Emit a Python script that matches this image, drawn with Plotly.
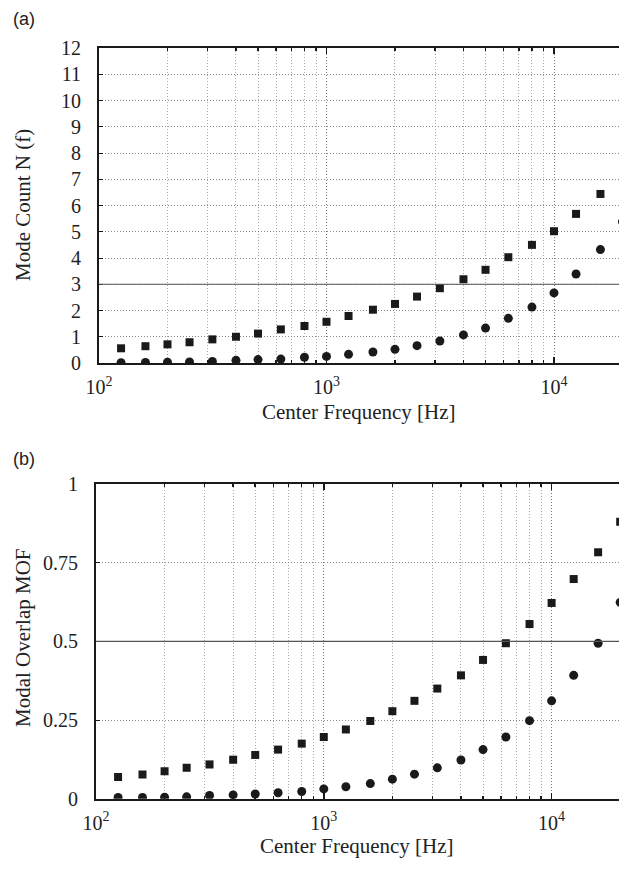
import plotly.graph_objects as go

# ---- data ----
freqs = [125, 160, 200, 250, 315, 400, 500, 630, 800, 1000, 1250, 1600,
         2000, 2500, 3150, 4000, 5000, 6300, 8000, 10000, 12500, 16000, 20000]

# last square of panel (a) lies outside the visible frame in the reference
mode_count_sq = [0.56, 0.64, 0.71, 0.79, 0.90, 1.00, 1.12, 1.28, 1.41, 1.57, 1.79, 2.03,
                 2.25, 2.53, 2.85, 3.19, 3.55, 4.03, 4.50, 5.02, 5.68, 6.44, None]
mode_count_ci = [0.01, 0.02, 0.03, 0.04, 0.06, 0.10, 0.13, 0.15, 0.22, 0.25, 0.33, 0.42,
                 0.52, 0.66, 0.84, 1.07, 1.33, 1.70, 2.13, 2.67, 3.39, 4.32, 5.38]

mof_sq = [0.069, 0.077, 0.087, 0.098, 0.109, 0.124, 0.139, 0.156, 0.175, 0.196, 0.220, 0.247,
          0.278, 0.311, 0.350, 0.392, 0.441, 0.494, 0.555, 0.622, 0.698, 0.783, 0.880]
mof_ci = [0.004, 0.004, 0.005, 0.006, 0.010, 0.012, 0.015, 0.019, 0.023, 0.031, 0.038, 0.048,
          0.062, 0.078, 0.098, 0.123, 0.156, 0.196, 0.248, 0.311, 0.392, 0.494, 0.624]

threshold_a = 3
threshold_b = 0.5

x_major = [100, 1000, 10000]
x_major_text = ["10<sup>2</sup>", "10<sup>3</sup>", "10<sup>4</sup>"]
x_minor = [200, 300, 400, 500, 600, 700, 800, 900,
           2000, 3000, 4000, 5000, 6000, 7000, 8000, 9000, 20000]

ya_ticks = list(range(0, 13))
yb_ticks = [0, 0.25, 0.5, 0.75, 1]
yb_text = ["0", "0.25", "0.5", "0.75", "1"]

# figure is a bit wider than the 619px window so the right edge is cropped,
# as in the reference
W, H = 640, 869
SERIF = "Liberation Serif"
INK = "#1a1a1a"
DOTS = "1px,2px"

fig = go.Figure()

def add_series(xa, ya, sq, ci):
    fig.add_trace(go.Scatter(x=freqs, y=sq, mode="markers", xaxis=xa, yaxis=ya,
                             marker=dict(symbol="square", size=8, color=INK, line=dict(width=0)),
                             showlegend=False, cliponaxis=True))
    fig.add_trace(go.Scatter(x=freqs, y=ci, mode="markers", xaxis=xa, yaxis=ya,
                             marker=dict(symbol="circle", size=9, color=INK, line=dict(width=0)),
                             showlegend=False, cliponaxis=True))

add_series("x", "y", mode_count_sq, mode_count_ci)
add_series("x2", "y2", mof_sq, mof_ci)

def px_x(p):
    return p / W

def px_y(p):
    return 1 - p / H

xcommon = dict(
    type="log", tickmode="array", tickvals=x_major, ticktext=x_major_text,
    ticks="inside", ticklen=6, tickwidth=1.5, tickcolor=INK,
    showline=True, linewidth=2, linecolor=INK, mirror="ticks",
    showgrid=True, gridcolor="#777", griddash=DOTS, gridwidth=1,
    tickfont=dict(family=SERIF, size=20, color="#222"),
    ticklabelstandoff=5, automargin=False,
    minor=dict(tickmode="array", tickvals=x_minor, ticks="inside", ticklen=3,
               tickcolor=INK, showgrid=True, gridcolor="#a8a8a8", griddash=DOTS,
               gridwidth=1),
    zeroline=False,
)
ycommon = dict(
    ticks="inside", ticklen=4, tickwidth=1, tickcolor=INK,
    showline=True, linewidth=2, linecolor=INK, mirror=False,
    showgrid=True, gridcolor="#8a8a8a", griddash=DOTS, gridwidth=1,
    tickfont=dict(family=SERIF, size=20, color="#222"),
    ticklabelstandoff=12, zeroline=False, automargin=False,
)

fig.update_layout(
    template="none",
    width=W, height=H,
    margin=dict(l=0, r=0, t=0, b=0, autoexpand=False),
    paper_bgcolor="white", plot_bgcolor="white",
    showlegend=False,
    xaxis=dict(xcommon, domain=[px_x(99), 1.0], range=[2, 4.378], anchor="y"),
    yaxis=dict(ycommon, domain=[px_y(363), px_y(48)], range=[0, 12],
               tickmode="array", tickvals=ya_ticks, anchor="x"),
    xaxis2=dict(xcommon, domain=[px_x(96), 1.0], range=[2, 4.388], anchor="y2"),
    yaxis2=dict(ycommon, domain=[px_y(798.7), px_y(484)], range=[0, 1],
                tickmode="array", tickvals=yb_ticks, ticktext=yb_text, anchor="x2"),
)

# threshold lines
fig.add_shape(type="line", xref="x domain", yref="y", x0=0, x1=1,
              y0=threshold_a, y1=threshold_a, line=dict(color="#555", width=1.2))
fig.add_shape(type="line", xref="x2 domain", yref="y2", x0=0, x1=1,
              y0=threshold_b, y1=threshold_b, line=dict(color="#555", width=1.2))

ann_font = dict(family=SERIF, size=21, color="#222")
sans = dict(family="Liberation Sans", size=18, color="#222")
annots = [
    dict(text="(a)", x=px_x(11), y=px_y(19), xanchor="left", yanchor="middle", font=sans),
    dict(text="(b)", x=px_x(11), y=px_y(459), xanchor="left", yanchor="middle", font=sans),
    dict(text="Center Frequency [Hz]", x=px_x(359), y=px_y(412), xanchor="center",
         yanchor="middle", font=ann_font),
    dict(text="Center Frequency [Hz]", x=px_x(357), y=px_y(846), xanchor="center",
         yanchor="middle", font=ann_font),
    dict(text="Mode Count N (f)", x=px_x(23), y=px_y(205), xanchor="center",
         yanchor="middle", textangle=-90, font=ann_font),
    dict(text="Modal Overlap MOF", x=px_x(23), y=px_y(638), xanchor="center",
         yanchor="middle", textangle=-90, font=ann_font),
]
for a in annots:
    fig.add_annotation(xref="paper", yref="paper", showarrow=False, **a)

page_fix = ("document.body.style.margin='0';document.body.style.padding='0';"
            "document.body.style.overflow='hidden';"
            "document.documentElement.style.overflow='hidden';")

fig.write_html("out.html", post_script=page_fix,
               config={"displayModeBar": False, "staticPlot": True})
